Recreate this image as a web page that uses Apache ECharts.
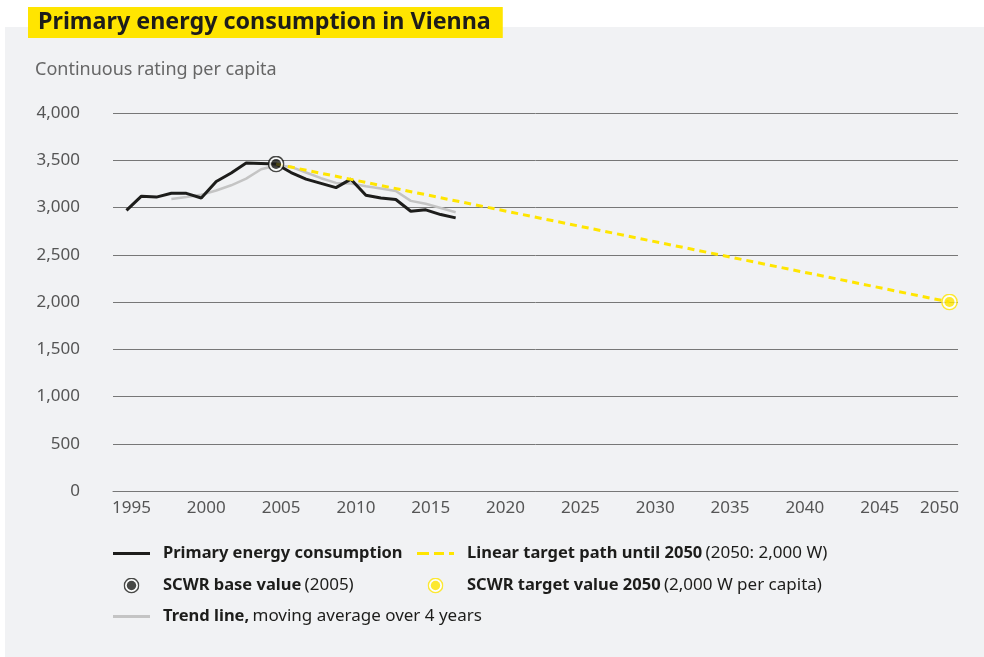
<!DOCTYPE html>
<html>
<head>
<meta charset="utf-8">
<title>Primary energy consumption in Vienna</title>
<script src="https://cdn.jsdelivr.net/npm/echarts@6/dist/echarts.min.js"></script>
<style>
    html, body { margin: 0; padding: 0; background: #fff; }
    .bg { position: absolute; left: 5px; top: 27px; width: 979px; height: 630px; background: #f1f2f4; }
    #chart { position: absolute; left: 0; top: 0; width: 984px; height: 657px; }
</style>
</head>
<body>
<div class="bg"></div>
<div id="chart"></div>
<script>
    // 数据
    var years = [1995, 1996, 1997, 1998, 1999, 2000, 2001, 2002, 2003, 2004, 2005, 2006,
        2007, 2008, 2009, 2010, 2011, 2012, 2013, 2014, 2015, 2016, 2017];
    var consumption = [2970, 3120, 3110, 3150, 3150, 3100, 3275, 3365, 3470, 3465, 3460, 3370,
        3300, 3255, 3210, 3300, 3130, 3100, 3085, 2960, 2975, 2925, 2890];
    var trendYears = [1998, 1999, 2000, 2001, 2002, 2003, 2004, 2005, 2006, 2007,
        2008, 2009, 2010, 2011, 2012, 2013, 2014, 2015, 2016, 2017];
    var trend = [3090, 3110, 3135, 3180, 3235, 3305, 3405, 3445, 3430, 3370,
        3310, 3260, 3255, 3225, 3200, 3175, 3070, 3040, 2995, 2950];
    var targetYears = [2005, 2050];
    var targetPath = [3460, 2000];
    var baseValue = [2005, 3460];
    var targetValue = [2050, 2000];
    var xTicks = [1995, 2000, 2005, 2010, 2015, 2020, 2025, 2030, 2035, 2040, 2045, 2050];

    var FONT = "Noto Sans";
    var DARK = "#1d1d1b";
    var YELLOW = "#ffe500";
    var GREY = "#c4c4c4";

    function pairs(xs, ys) {
        return xs.map(function (x, i) { return [x, ys[i]]; });
    }

    // 圆环标记 (svg)
    function ringIcon(color) {
        var svg = "<svg xmlns='http://www.w3.org/2000/svg' width='34' height='34'>" +
            "<circle cx='17' cy='17' r='15.3' fill='#ffffff' stroke='" + color + "' stroke-width='3'/>" +
            "<circle cx='17' cy='17' r='10' fill='" + color + "'/></svg>";
        return "image://data:image/svg+xml;charset=utf-8," + encodeURIComponent(svg);
    }

    // 图例里的线条图标
    var solidIcon = "path://M0,0h37v3h-37z";
    var dashIcon = "path://M0,0h12v3h-12z M17,0h10v3h-10z M32,0h5v3h-5z";

    var legendRich = {
        b: { fontFamily: FONT, fontSize: 16.5, fontWeight: "bold", color: DARK, lineHeight: 18 },
        n: { fontFamily: FONT, fontSize: 17, color: DARK, lineHeight: 18 }
    };

    function makeLegend(name, text, left, top, icon) {
        return {
            data: [{ name: name, icon: icon }],
            left: left,
            top: top,
            itemWidth: 37,
            itemHeight: 16,
            selectedMode: false,
            padding: 0,
            textStyle: { rich: legendRich, padding: [0, 0, 0, 8] },
            formatter: function () { return text; }
        };
    }

    var myChart = echarts.init(document.getElementById("chart"));

    var option = {
        backgroundColor: "transparent",
        animation: false,
        title: [{
            text: "Primary energy consumption in Vienna",
            left: 28,
            top: 7,
            padding: [4, 12, 4, 10],
            backgroundColor: YELLOW,
            textStyle: { fontFamily: FONT, fontSize: 23.3, fontWeight: "bold", color: DARK, lineHeight: 23 }
        }, {
            text: "Continuous rating per capita",
            left: 35,
            top: 61,
            padding: 0,
            textStyle: { fontFamily: FONT, fontSize: 18, fontWeight: "normal", color: "#666" }
        }],
        legend: [
            makeLegend("Primary energy consumption", "{b|Primary energy consumption}", 113, 545, solidIcon),
            makeLegend("Linear target path", "{b|Linear target path until 2050} {n|(2050: 2,000 W)}", 417, 545, dashIcon),
            makeLegend("SCWR base value", "{b|SCWR base value} {n|(2005)}", 113, 577, ringIcon(DARK)),
            makeLegend("SCWR target value", "{b|SCWR target value 2050} {n|(2,000 W per capita)}", 417, 577, ringIcon(YELLOW)),
            makeLegend("Trend line", "{b|Trend line,} {n|moving average over 4 years}", 113, 608, solidIcon)
        ],
        grid: { left: 113, right: 26, top: 113, bottom: 166 },
        xAxis: {
            type: "value",
            min: 1994.1,
            max: 2050.57,
            splitLine: { show: false },
            axisTick: { show: false },
            axisLine: { show: true, lineStyle: { color: "#777", width: 1 } },
            axisLabel: {
                customValues: xTicks,
                margin: 9,
                formatter: function (v) {
                    return v === 2050 ? "{e|" + v + "}" : "{n|" + v + "}";
                },
                rich: {
                    n: { fontFamily: FONT, fontSize: 17, color: "#555", padding: [0, 0, 0, 10] },
                    e: { fontFamily: FONT, fontSize: 17, color: "#555", padding: [0, 20, 0, 0] }
                }
            }
        },
        yAxis: {
            type: "value",
            min: 0,
            max: 4000,
            interval: 500,
            axisLine: { show: false },
            axisTick: { show: false },
            splitLine: { lineStyle: { color: "#777", width: 1 } },
            axisLabel: {
                margin: 33,
                fontFamily: FONT,
                fontSize: 17,
                color: "#555",
                formatter: function (v) { return v.toLocaleString("en-US"); }
            }
        },
        series: [{
            name: "Trend line",
            type: "line",
            data: pairs(trendYears, trend),
            symbol: "none",
            lineStyle: { color: GREY, width: 2.5 },
            itemStyle: { color: GREY },
            z: 2
        }, {
            name: "Primary energy consumption",
            type: "line",
            data: pairs(years, consumption),
            symbol: "none",
            lineStyle: { color: DARK, width: 3 },
            itemStyle: { color: DARK },
            z: 3
        }, {
            name: "Linear target path",
            type: "line",
            data: pairs(targetYears, targetPath),
            symbol: "none",
            lineStyle: { color: YELLOW, width: 3, type: [7, 5] },
            itemStyle: { color: YELLOW },
            z: 4
        }, {
            name: "SCWR base value",
            type: "scatter",
            data: [baseValue],
            symbol: ringIcon(DARK),
            symbolSize: 17,
            z: 5
        }, {
            name: "SCWR target value",
            type: "scatter",
            data: [targetValue],
            symbol: ringIcon(YELLOW),
            symbolSize: 17,
            z: 5
        }]
    };

    myChart.setOption(option);
</script>
</body>
</html>
